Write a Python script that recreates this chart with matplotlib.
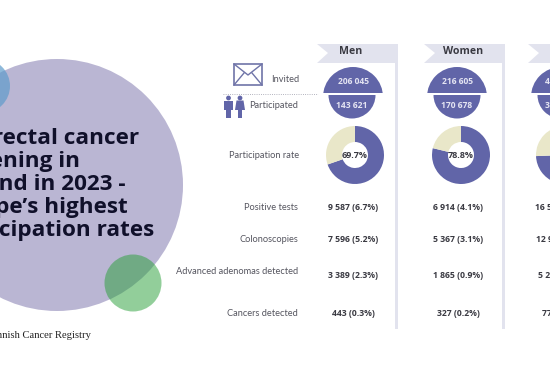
import matplotlib
matplotlib.use('Agg')
import matplotlib.pyplot as plt
from matplotlib.patches import Circle, Polygon, Rectangle, Wedge

# table values
columns = ['Men', 'Women', 'Total']
invited = ['206 045', '216 605', '422 650']
participated = ['143 621', '170 678', '314 299']
rate = [69.7, 78.8, 74.4]
row_labels = ['Positive tests', 'Colonoscopies', 'Advanced adenomas detected', 'Cancers detected']
positive = ['9 587 (6.7%)', '6 914 (4.1%)', '16 501 (5.3%)']
colonoscopies = ['7 596 (5.2%)', '5 367 (3.1%)', '12 963 (4.1%)']
adenomas = ['3 389 (2.3%)', '1 865 (0.9%)', '5 254 (1.7%)']
cancers = ['443 (0.3%)', '327 (0.2%)', '770 (0.2%)']
title_lines = ['Colorectal cancer', 'screening in', 'Finland in 2023 -', 'Europe\u2019s highest', 'participation rates']

purple = '#6165a8'
cream = '#e9e7c9'
band = '#e2e3ee'
grey = '#55555f'
dark = '#3a3a42'

fig = plt.figure(figsize=(5.5, 3.7), dpi=100)
ax = fig.add_axes([0, 0, 1, 1])


def Y(y):
    # picture rows count downwards
    return 370 - y


# circles behind the title
ax.add_patch(Circle((57, Y(185)), 126, fc='#bab6d3', ec='none'))
ax.add_patch(Circle((-17, Y(86)), 27, fc='#5f9ccb', ec='none', alpha=0.7))
ax.add_patch(Circle((133, Y(283)), 28.5, fc='#279f37', ec='none', alpha=0.5))

for i, line in enumerate(title_lines):
    ax.text(-56, Y(138 + i * 23.2), line, fontsize=16.2, fontweight='bold', family='Open Sans',
            color='#10102a', ha='left', va='center')
ax.text(91, Y(336), 'Finnish Cancer Registry', fontsize=7.6, family='Liberation Serif',
        color='#222222', ha='right', va='center')

# column ribbons and side bands
ribbon_left = [317, 424, 528]
band_right = [398, 505, 610]
head_x = [351, 463, 570]
invited_x = [353, 457, 561]
part_x = [352, 457, 561]
donut_x = [355, 461, 565]
value_x = [353, 458, 563]

for i in range(3):
    l = ribbon_left[i]
    r = band_right[i]
    ax.add_patch(Polygon([(l, Y(44)), (r, Y(44)), (r, Y(63)), (l, Y(63)), (l + 11, Y(53))], fc=band, ec='none'))
    ax.add_patch(Rectangle((r - 3, Y(329)), 3, 270, fc=band, ec='none'))
    ax.text(head_x[i], Y(52), columns[i], fontsize=7.6, fontweight='bold', family='Open Sans',
            color=dark, ha='center', va='center')

    # invited cap, cut flat a little above its centre
    cap = Circle((invited_x[i], Y(97)), 30, fc=purple, ec='none')
    ax.add_patch(cap)
    cap.set_clip_path(Rectangle((invited_x[i] - 31, Y(93)), 62, 30, transform=ax.transData))
    ax.add_patch(Wedge((part_x[i], Y(95)), 23.5, 180, 360, fc=purple, ec='none'))
    ax.text(invited_x[i], Y(81), invited[i], fontsize=6.1, fontweight='bold', family='Open Sans',
            color='#e4e4f2', ha='center', va='center')
    ax.text(part_x[i], Y(106), participated[i], fontsize=6.1, fontweight='bold', family='Open Sans',
            color='#e4e4f2', ha='center', va='center')

    ax.pie([rate[i], 100 - rate[i]], colors=[purple, cream], startangle=90, counterclock=False,
           center=(donut_x[i], Y(155)), radius=29, wedgeprops=dict(width=16, ec='none'), frame=True)
    ax.text(donut_x[i], Y(156), '%.1f%%' % rate[i], fontsize=6.5, fontweight='bold', family='Open Sans',
            color=dark, ha='center', va='center')

    ax.text(value_x[i], Y(208), positive[i], fontsize=6.2, fontweight='bold', family='Open Sans', color=dark, ha='center', va='center')
    ax.text(value_x[i], Y(239), colonoscopies[i], fontsize=6.2, fontweight='bold', family='Open Sans', color=dark, ha='center', va='center')
    ax.text(value_x[i], Y(276), adenomas[i], fontsize=6.2, fontweight='bold', family='Open Sans', color=dark, ha='center', va='center')
    ax.text(value_x[i], Y(313), cancers[i], fontsize=6.2, fontweight='bold', family='Open Sans', color=dark, ha='center', va='center')

# left hand labels
ax.text(299, Y(80), 'Invited', fontsize=6.7, family='Lato', color=grey, ha='right', va='center')
ax.text(298, Y(106), 'Participated', fontsize=6.7, family='Lato', color=grey, ha='right', va='center')
ax.text(299, Y(156), 'Participation rate', fontsize=6.7, family='Lato', color=grey, ha='right', va='center')
row_y = [208, 239, 271, 313]
for lab, y in zip(row_labels, row_y):
    ax.text(298, Y(y), lab, fontsize=6.7, family='Lato', color=grey, ha='right', va='center')

ax.plot([223, 318], [Y(94), Y(94)], color='#9a9aa8', lw=0.6, ls=':')

# envelope
env = '#6f74a8'
ax.add_patch(Rectangle((234, Y(85)), 28, 21, fc='white', ec=env, lw=1.2))
ax.plot([234, 248, 262], [Y(64), Y(75), Y(64)], color=env, lw=1)
ax.plot([234, 244], [Y(85), Y(73)], color=env, lw=1)
ax.plot([262, 252], [Y(85), Y(73)], color=env, lw=1)

# man and woman icons
ax.add_patch(Circle((228.5, Y(98)), 2.4, fc=purple, ec='none'))
ax.add_patch(Rectangle((224, Y(110)), 9, 9.5, fc=purple, ec='none'))
ax.add_patch(Rectangle((226, Y(118)), 5, 9, fc=purple, ec='none'))
ax.add_patch(Circle((240, Y(98)), 2.4, fc=purple, ec='none'))
ax.add_patch(Polygon([(236.5, Y(100.5)), (243.5, Y(100.5)), (245, Y(110)), (235, Y(110))], fc=purple, ec='none'))
ax.add_patch(Rectangle((238, Y(118)), 4, 9, fc=purple, ec='none'))

ax.set_xlim(0, 550)
ax.set_ylim(0, 370)
ax.set_aspect('auto')
ax.axis('off')
fig.savefig('out.png', dpi=100, facecolor='white')
